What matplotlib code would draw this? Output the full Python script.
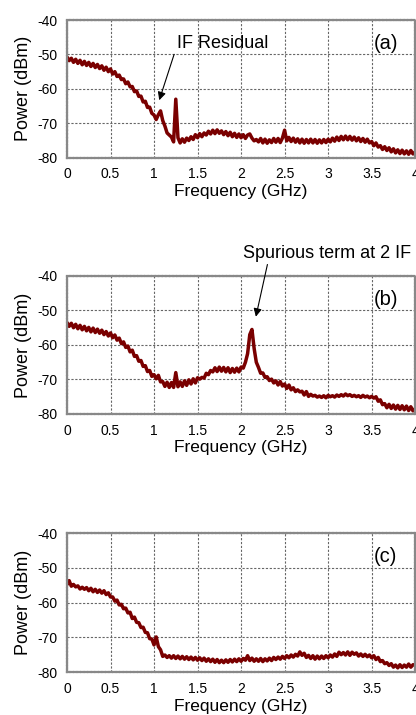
import numpy as np
import matplotlib
matplotlib.use("Agg")
import matplotlib.pyplot as plt

plt.rcParams['font.family'] = ['Liberation Sans', 'DejaVu Sans']

freq_ghz = np.arange(161) * 0.025

power_a = [
    -50.7, -51.8, -51.1, -52.3, -51.4, -52.6, -51.7, -53.0,
    -52.0, -53.2, -52.3, -53.5, -52.6, -53.8, -52.9, -54.1,
    -53.3, -54.6, -53.7, -55.0, -54.2, -55.7, -55.0, -56.4,
    -56.0, -57.3, -57.1, -58.5, -58.0, -59.4, -59.3, -60.8,
    -60.6, -62.2, -62.1, -63.8, -63.6, -65.4, -65.3, -67.1,
    -67.6, -68.9, -67.5, -66.4, -69.2, -70.8, -72.8, -73.4,
    -74.0, -75.4, -63.0, -74.2, -75.7, -74.5, -75.5, -74.3,
    -75.0, -73.9, -74.7, -73.3, -74.2, -73.0, -73.9, -72.8,
    -73.4, -72.3, -73.1, -72.0, -73.0, -71.9, -72.9, -72.2,
    -73.3, -72.4, -73.6, -72.6, -73.9, -72.9, -74.1, -73.1,
    -74.2, -73.3, -74.4, -73.4, -73.1, -74.3, -75.1, -74.7,
    -75.4, -74.4, -75.7, -74.6, -75.8, -74.8, -75.6, -74.4,
    -75.5, -74.4, -75.6, -74.3, -72.0, -75.1, -74.1, -75.3,
    -74.3, -75.5, -74.5, -75.7, -74.6, -75.8, -74.7, -75.7,
    -74.6, -75.7, -74.7, -75.8, -74.8, -75.7, -74.7, -75.6,
    -74.6, -75.4, -74.3, -75.2, -74.0, -75.0, -73.8, -74.8,
    -73.7, -74.8, -73.8, -74.9, -74.0, -75.1, -74.2, -75.3,
    -74.4, -75.5, -74.6, -75.7, -75.3, -76.5, -75.7, -76.9,
    -76.5, -77.6, -76.8, -77.9, -77.1, -78.3, -77.4, -78.6,
    -77.7, -78.8, -77.8, -78.9, -78.0, -79.0, -77.9, -78.9,
    -78.3,
]

power_b = [
    -53.4, -54.6, -53.7, -55.0, -54.0, -55.3, -54.3, -55.6,
    -54.6, -55.9, -54.9, -56.2, -55.1, -56.4, -55.4, -56.6,
    -55.7, -57.0, -56.1, -57.4, -56.5, -57.9, -57.1, -58.6,
    -58.0, -59.6, -59.1, -60.7, -60.3, -62.0, -61.5, -63.3,
    -63.1, -64.7, -64.5, -66.2, -66.0, -67.7, -67.4, -69.1,
    -68.6, -69.8, -68.8, -70.7, -70.6, -72.0, -70.8, -72.3,
    -70.9, -72.3, -68.0, -72.1, -70.7, -72.0, -70.4, -71.7,
    -70.1, -71.3, -69.8, -71.0, -69.5, -69.9, -69.4, -69.6,
    -68.2, -68.6, -67.4, -67.8, -66.6, -67.7, -66.4, -67.6,
    -66.5, -67.8, -66.6, -68.0, -66.8, -67.9, -66.7, -67.8,
    -66.4, -66.7, -65.0, -62.5, -57.0, -55.5, -61.0, -65.0,
    -66.5, -68.2, -68.1, -69.4, -69.2, -70.3, -69.9, -71.0,
    -70.4, -71.6, -70.6, -71.9, -71.3, -72.6, -71.6, -73.0,
    -72.4, -73.5, -73.0, -73.6, -73.4, -74.5, -73.5, -74.9,
    -74.3, -74.8, -74.6, -75.1, -74.8, -75.2, -74.7, -75.3,
    -74.6, -75.0, -74.7, -75.1, -74.5, -74.9, -74.4, -74.8,
    -74.2, -74.7, -74.4, -74.9, -74.6, -75.0, -74.7, -75.2,
    -74.6, -75.1, -74.8, -75.3, -74.9, -75.4, -75.0, -76.3,
    -75.9, -77.3, -77.0, -78.2, -77.2, -78.4, -77.4, -78.6,
    -77.5, -78.7, -77.6, -78.8, -77.7, -79.0, -77.9, -79.1,
    -78.5,
]

power_c = [
    -54.9, -53.7, -55.3, -54.8, -55.5, -55.2, -56.1, -55.6,
    -56.2, -55.7, -56.6, -55.9, -56.9, -56.2, -57.1, -56.4,
    -57.3, -56.6, -57.7, -57.2, -58.4, -58.4, -59.6, -59.3,
    -60.7, -60.5, -61.8, -61.6, -63.0, -62.8, -64.6, -64.2,
    -65.7, -65.8, -67.2, -67.1, -68.6, -68.7, -70.4, -70.5,
    -72.2, -69.9, -72.7, -73.6, -75.5, -75.1, -75.8, -75.3,
    -76.0, -75.3, -76.1, -75.4, -76.2, -75.5, -76.3, -75.6,
    -76.4, -75.7, -76.5, -75.8, -76.6, -75.9, -76.7, -76.0,
    -76.9, -76.2, -77.0, -76.3, -77.2, -76.4, -77.3, -76.6,
    -77.3, -76.5, -77.2, -76.4, -77.1, -76.3, -77.0, -76.2,
    -76.9, -76.1, -76.6, -75.3, -76.7, -76.0, -76.9, -76.2,
    -76.9, -76.1, -77.0, -76.2, -76.8, -76.0, -76.7, -75.8,
    -76.4, -75.7, -76.3, -75.5, -76.1, -75.3, -75.9, -75.1,
    -75.7, -74.9, -75.4, -74.2, -75.2, -74.6, -75.8, -75.2,
    -76.1, -75.3, -76.3, -75.4, -76.2, -75.4, -76.1, -75.3,
    -75.9, -75.1, -75.7, -74.8, -75.5, -74.3, -75.0, -74.4,
    -75.1, -74.2, -75.2, -74.3, -74.9, -74.5, -75.4, -74.8,
    -75.5, -74.9, -75.6, -75.1, -75.9, -75.3, -76.4, -75.8,
    -77.0, -76.7, -77.6, -77.3, -78.1, -77.6, -78.6, -78.0,
    -78.8, -77.9, -78.7, -78.0, -78.6, -77.7, -78.6, -77.9,
    -78.0,
]

x_ticks = [0, 0.5, 1, 1.5, 2, 2.5, 3, 3.5, 4]
x_tick_labels = ["0", "0.5", "1", "1.5", "2", "2.5", "3", "3.5", "4"]
y_ticks = [-80, -70, -60, -50, -40]
y_tick_labels = ["-80", "-70", "-60", "-50", "-40"]
panel_labels = ["(a)", "(b)", "(c)"]

line_color = "#7a0000"

fig = plt.figure(figsize=(4.16, 7.15), dpi=100)
rects = [
    [0.161, 0.7794, 0.837, 0.1926],
    [0.161, 0.4210, 0.837, 0.1930],
    [0.161, 0.0601, 0.837, 0.1944],
]
series = [power_a, power_b, power_c]
axes = []
for rect, pw, lab in zip(rects, series, panel_labels):
    ax = fig.add_axes(rect)
    ax.plot(freq_ghz, pw, color=line_color, lw=2.5,
            solid_joinstyle='round', solid_capstyle='butt')
    ax.set_xlim(0, 4)
    ax.set_ylim(-80, -40)
    ax.set_xticks(x_ticks)
    ax.set_xticklabels(x_tick_labels)
    ax.set_yticks(y_ticks)
    ax.set_yticklabels(y_tick_labels)
    ax.tick_params(length=0, labelsize=10, pad=7)
    ax.grid(True, color="#666666", linestyle=(0, (2, 1.5)), lw=0.8)
    ax.set_axisbelow(True)
    for s in ax.spines.values():
        s.set_color("#888888")
        s.set_linestyle((0, (1, 0.6)))
        s.set_linewidth(1.6)
    ax.set_xlabel("Frequency (GHz)", fontsize=12.5, labelpad=2)
    ax.set_ylabel("Power (dBm)", fontsize=13, labelpad=4)
    ax.text(3.66, -46.7, lab, fontsize=14.5, ha="center", va="center")
    axes.append(ax)

axes[0].annotate("IF Residual", xy=(1.06, -63.3), xytext=(1.26, -46.7),
                 fontsize=13, ha="left", va="center",
                 arrowprops=dict(arrowstyle="-|>", color="black", lw=0.8,
                                 mutation_scale=12, shrinkA=0, shrinkB=0,
                                 relpos=(0.0, 0.3)))
axes[1].annotate("Spurious term at 2 IF", xy=(2.17, -51.8), xytext=(2.02, -33.4),
                 fontsize=13, ha="left", va="center", annotation_clip=False,
                 arrowprops=dict(arrowstyle="-|>", color="black", lw=0.8,
                                 mutation_scale=12, shrinkA=0, shrinkB=0,
                                 relpos=(0.15, 0.0)))

fig.savefig("out.png", dpi=100)
